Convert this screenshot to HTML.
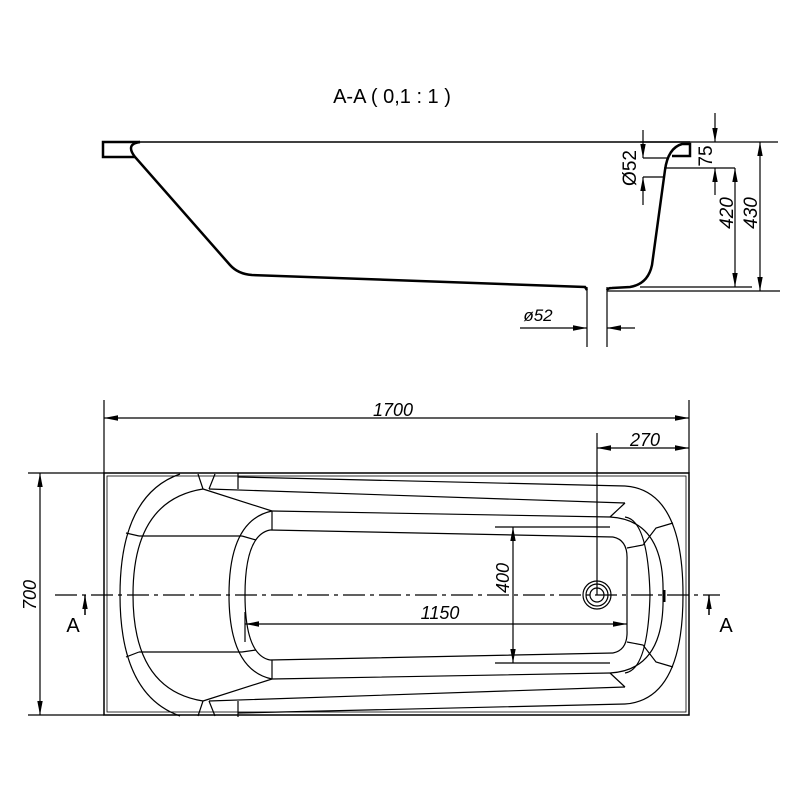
<!DOCTYPE html>
<html><head><style>body{margin:0;background:#fff}svg{display:block}text{font-family:"Liberation Sans",sans-serif;fill:#000}</style></head>
<body>
<svg width="800" height="800" viewBox="0 0 800 800" xmlns="http://www.w3.org/2000/svg">
<defs>
<marker id="a" viewBox="0 0 14 8" refX="14" refY="4" markerUnits="userSpaceOnUse" markerWidth="14" markerHeight="8" orient="auto-start-reverse"><path d="M0,1.3L14,4L0,6.7z" fill="#000"/></marker>
</defs>
<g fill="none" stroke="#000" stroke-width="1.2">
<!-- section -->
<text x="392" y="103" font-size="20" text-anchor="middle" stroke="none">A-A ( 0,1 : 1 )</text>
<path d="M103,142H690" stroke-width="1.5"/>
<path d="M140,142 L103,142 L103,157 L135,157" stroke-width="2.5"/>
<path d="M140,142 Q125,144 135,157 L230,265 Q238,274 252,275 L585,287 L587,290" stroke-width="2.5"/>
<path d="M607,290 Q608,288 612,288 L630,287 Q648,284 652,265 L665,170 Q668,148 682,144 L690,144 L690,156 L672,156" stroke-width="2.5"/>
<path d="M587,287V347M607,287V347"/>
<path d="M607,291H780M640,287H752M664,168H735M640,142H778"/>
<path d="M760,142V291" marker-start="url(#a)" marker-end="url(#a)"/>
<path d="M735,168V287" marker-start="url(#a)" marker-end="url(#a)"/>
<path d="M715,113V142" marker-end="url(#a)"/>
<path d="M715,195V168" marker-end="url(#a)"/>
<path d="M643,130V158" marker-end="url(#a)"/>
<path d="M643,205V177" marker-end="url(#a)"/>
<path d="M643,158H668M643,177H664"/>
<path d="M520,328H587" marker-end="url(#a)"/>
<path d="M635,328H607" marker-end="url(#a)"/>
<text x="0" y="0" font-size="19" stroke="none" transform="translate(712,156) rotate(-90)" text-anchor="middle">75</text>
<text x="0" y="0" font-size="19" stroke="none" transform="translate(733,213) rotate(-90)" text-anchor="middle" font-style="italic">420</text>
<text x="0" y="0" font-size="19" stroke="none" transform="translate(757,213) rotate(-90)" text-anchor="middle" font-style="italic">430</text>
<text x="0" y="0" font-size="19" stroke="none" transform="translate(636,168) rotate(-90)" text-anchor="middle">Ø52</text>
<text x="538" y="321" font-size="17" stroke="none" font-style="italic" text-anchor="middle">ø52</text>
<!-- plan -->
<rect x="104" y="473" width="585" height="242" stroke-width="1.5"/>
<rect x="107" y="476" width="579" height="236" stroke-width="0.8"/>
<path d="M55,595H720" stroke-dasharray="22,5,4,5"/>
<!-- left head bowl -->
<path d="M180,474 Q120,495 120,595 Q120,695 180,716"/>
<path d="M203,489 Q133,500 133,595 Q133,690 203,701"/>
<path d="M198,474L203,489M215,474L209,489M238,473V489M198,716L203,701M215,716L209,701M238,717V701"/>
<path d="M203,489L272,511M203,701L272,679"/>
<path d="M272,511 Q229,520 229,595 Q229,670 272,679"/>
<path d="M272,511V530M272,679V660"/>
<path d="M270,530 Q245,535 245,595 Q245,655 270,660"/>
<path d="M126,533L139,536M139,536H242M242,536L256,540M126,657L139,652M139,652H242M242,652L256,650"/>
<!-- long lines -->
<path d="M238,477L625,486M209,489L625,503M272,511L610,517M270,530L613,537"/>
<path d="M238,713L625,704M209,701L625,687M272,679L610,673M270,660L613,653"/>
<!-- right end -->
<path d="M625,486 Q683,490 683,595 Q683,700 625,704"/>
<path d="M625,503L610,517M625,687L610,673"/>
<path d="M610,517 Q665,520 663,595 Q665,670 610,673"/>
<path d="M625,517 Q648,520 650,595 Q648,670 625,673"/>
<path d="M613,537 Q628,540 627,560 L627,630 Q628,650 613,653"/>
<path d="M627,548L643,545L656,528L673,523M627,642L643,645L656,662L673,667"/>
<path d="M664,590V602" stroke-width="3"/>
<circle cx="597" cy="595" r="14"/><circle cx="597" cy="595" r="11"/><circle cx="597" cy="595" r="7"/>
<!-- dims -->
<path d="M104,400V473M689,400V473M597,433V595"/>
<path d="M104,418H689" marker-start="url(#a)" marker-end="url(#a)"/>
<path d="M597,448H689" marker-start="url(#a)" marker-end="url(#a)"/>
<text x="393" y="416" font-size="18" stroke="none" font-style="italic" text-anchor="middle">1700</text>
<text x="645" y="446" font-size="18" stroke="none" font-style="italic" text-anchor="middle">270</text>
<path d="M28,473H104M28,715H104"/>
<path d="M40,473V715" marker-start="url(#a)" marker-end="url(#a)"/>
<text x="0" y="0" font-size="18" stroke="none" transform="translate(36,595) rotate(-90)" text-anchor="middle" font-style="italic">700</text>
<path d="M495,527H610M495,663H610"/>
<path d="M513,527V663" marker-start="url(#a)" marker-end="url(#a)"/>
<text x="0" y="0" font-size="18" stroke="none" transform="translate(509,578) rotate(-90)" text-anchor="middle" font-style="italic">400</text>
<path d="M245,624H627" marker-start="url(#a)" marker-end="url(#a)"/>
<path d="M245,612V642"/>
<text x="440" y="619" font-size="18" stroke="none" font-style="italic" text-anchor="middle">1150</text>
<path d="M85,615V595" marker-end="url(#a)" stroke-width="1.5"/>
<path d="M709,615V595" marker-end="url(#a)" stroke-width="1.5"/>
<text x="73" y="632" font-size="20" stroke="none" text-anchor="middle">A</text>
<text x="726" y="632" font-size="20" stroke="none" text-anchor="middle">A</text>
</g>
</svg>
</body></html>
